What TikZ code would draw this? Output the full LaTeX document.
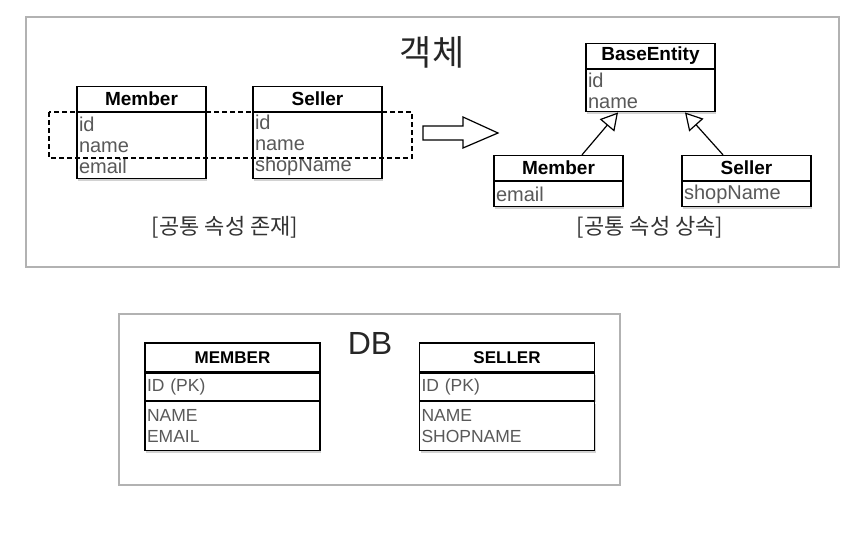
\documentclass[tikz,border=0pt]{standalone}
\usepackage{fontspec}
\setmainfont{Liberation Sans}
\newfontfamily\kr{Noto Sans CJK KR}
\usetikzlibrary{positioning,arrows.meta,shadows}

\begin{document}
\begin{tikzpicture}[
  x=1pt, y=-1pt,
  frame/.style={draw=black!30, line width=1.2pt},
  classhead/.style={draw, line width=1.3pt, fill=white, inner sep=0pt,
    minimum width=129pt, minimum height=25pt,
    font=\bfseries\fontsize{19}{21}\selectfont},
  classbody/.style={draw, line width=1.3pt, fill=white, inner xsep=2pt,
    inner ysep=1pt, minimum width=129pt, text width=125pt, align=left,
    text=black!65, font=\fontsize{20}{21}\selectfont,
    drop shadow={shadow xshift=1pt, shadow yshift=-2pt, opacity=0.35}},
  tablehead/.style={classhead, minimum width=175pt, minimum height=29pt,
    font=\bfseries\fontsize{17}{21}\selectfont},
  tablebody/.style={classbody, minimum width=175pt, text width=171pt,
    font=\fontsize{17.5}{21}\selectfont},
  common/.style={draw, line width=1.2pt, dash pattern=on 5pt off 3pt},
  inherit/.style={draw, line width=1.2pt,
    -{Triangle[open, length=17pt, width=19pt, fill=white]}},
  caption/.style={font=\kr\fontsize{22}{26}\selectfont, text=black!80},
  title/.style={font=\fontsize{32}{36}\selectfont, text=black!85},
]

\fill[white] (0,0) rectangle (858,536);
\useasboundingbox (0,0) rectangle (858,536);

% ------------------------------------------------------------ the frames
\draw[frame] (26,17) rectangle (839,267);
\draw[frame] (119,314) rectangle (620,485);
\node[title, font=\kr\fontsize{35}{40}\selectfont] (objtitle) at (432,52) {객체};
\node[title] (dbtitle) at (370,343) {DB};

% --------------------------------------------- objects, shared attributes
\node[classhead] (member) at (141.5,99) {Member};
\node[classbody, minimum height=66pt, below=0pt of member] (memberattr)
  {id\\name\\email};
\node[classhead] (seller) at (317.5,99) {Seller};
\node[classbody, minimum height=66pt, below=0pt of seller] (sellerattr)
  {id\\name\\shopName};

% the dashed band runs across both boxes over id and name
\draw[common] (49,112) rectangle (412,158);
\node[caption] (leftcap) at (225,227) {[공통 속성 존재]};

% hollow block arrow between the two halves
\draw[line width=1.2pt, fill=white] (423,126) -- (463,126) -- (463,117)
  -- (498,133) -- (463,148) -- (463,140) -- (423,140) -- cycle;

% ------------------------------------------ objects, inherited attributes
\node[classhead] (base) at (650.5,56) {BaseEntity};
\node[classbody, minimum height=42pt, below=0pt of base] (baseattr)
  {id\\name};
\node[classhead] (member2) at (558.5,168) {Member};
\node[classbody, minimum height=25pt, below=0pt of member2] (member2attr)
  {email};
\node[classhead] (seller2) at (746.5,168) {Seller};
\node[classbody, minimum height=25pt, below=0pt of seller2] (seller2attr)
  {shopName};

\draw[inherit] ([xshift=23.5pt]member2.north) -- ([xshift=-32.5pt]baseattr.south);
\draw[inherit] ([xshift=-23.5pt]seller2.north) -- ([xshift=34.5pt]baseattr.south);
\node[caption] (rightcap) at (650,227) {[공통 속성 상속]};

% ------------------------------------------------------------- the tables
\node[tablehead] (membertab) at (232.5,357.5) {MEMBER};
\node[tablebody, minimum height=27pt, below=0pt of membertab] (memberpk)
  {ID (PK)};
\node[tablebody, minimum height=49pt, below=0pt of memberpk] (membercols)
  {NAME\\EMAIL};
\node[tablehead] (sellertab) at (507,357.5) {SELLER};
\node[tablebody, minimum height=27pt, below=0pt of sellertab] (sellerpk)
  {ID (PK)};
\node[tablebody, minimum height=49pt, below=0pt of sellerpk] (sellercols)
  {NAME\\SHOPNAME};

\end{tikzpicture}
\end{document}
